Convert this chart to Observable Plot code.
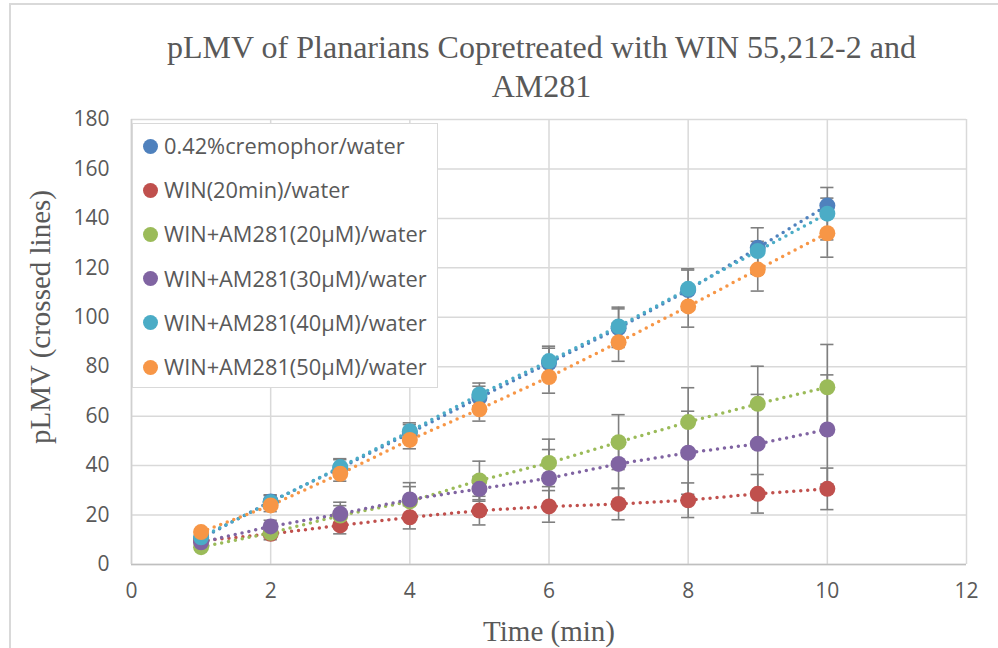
<!DOCTYPE html>
<html>
<head>
<meta charset="utf-8">
<script src="https://cdn.jsdelivr.net/npm/d3@7"></script>
<script src="https://cdn.jsdelivr.net/npm/@observablehq/plot@0.6"></script>
<style>
  body { margin: 0; background: #fff; }
  #wrap { position: relative; width: 998px; height: 648px; overflow: hidden; background: #fff; }
  #titlebox { position: absolute; left: 0; top: 0; width: 998px; height: 116px; overflow: visible; }
  #chart { position: absolute; left: 0; top: 100px; }
  #border { position: absolute; left: 9px; top: 3px; width: 1100px; height: 800px;
            border-left: 2px solid #d9d9d9; border-top: 2px solid #d9d9d9; pointer-events: none; }
  #legend { position: absolute; left: 132px; top: 123px; width: 304px; height: 263px;
            border: 1.5px solid #d9d9d9; background: #fff; font-family: "Open Sans"; font-size: 21.8px; color: #595959; }
  #legend .item { position: absolute; left: 0; height: 30px; white-space: nowrap; }
  #legend .sw { position: absolute; left: 10px; top: 7.5px; width: 15px; height: 15px; border-radius: 50%; }
  #legend .lab { position: absolute; left: 31px; top: 0; line-height: 30px; }
</style>
</head>
<body>
<div id="wrap">
  <div id="chart"></div>
  <svg id="titlebox" width="998" height="116"></svg>
  <div id="legend"></div>
  <div id="border"></div>
</div>
<script>
// ---------- data ----------
const titleLines = ["pLMV of Planarians Copretreated with WIN 55,212-2  and", "AM281"];
const xLabel = "Time (min)";
const yLabel = "pLMV (crossed lines)";

const times = [1, 2, 3, 4, 5, 6, 7, 8, 9, 10];
const xTicks = [0, 2, 4, 6, 8, 10, 12];
const yTicks = [0, 20, 40, 60, 80, 100, 120, 140, 160, 180];

const seriesNames = [
  "0.42%cremophor/water",
  "WIN(20min)/water",
  "WIN+AM281(20µM)/water",
  "WIN+AM281(30µM)/water",
  "WIN+AM281(40µM)/water",
  "WIN+AM281(50µM)/water"
];
const seriesColors = ["#4F81BD", "#C0504D", "#9BBB59", "#8064A2", "#4BACC6", "#F79646"];

const cremophor = [10.5, 25.5, 39.0, 53.2, 67.5, 81.5, 95.6, 111.0, 128.1, 145.2];
const win20     = [9.5, 12.4, 15.8, 19.1, 21.8, 23.5, 24.5, 26.0, 28.6, 30.6];
const am20      = [7.0, 12.8, 19.8, 25.5, 34.0, 41.1, 49.5, 57.6, 65.0, 71.7];
const am30      = [9.0, 15.4, 20.5, 26.3, 30.6, 34.9, 40.7, 45.2, 48.8, 54.6];
const am40      = [11.0, 25.2, 39.4, 53.9, 68.8, 82.3, 96.3, 111.5, 126.8, 141.9];
const am50      = [13.1, 23.9, 36.7, 50.4, 62.8, 75.8, 89.9, 104.4, 119.3, 134.0];

const cremophorErr = [1.0, 2.7, 3.4, 3.4, 4.6, 6.0, 7.8, 8.1, 2.6, 3.0];
const win20Err     = [1.0, 2.4, 3.4, 4.7, 5.8, 6.4, 6.4, 7.0, 7.8, 8.4];
const am20Err      = [1.0, 2.0, 4.0, 6.0, 7.8, 9.6, 11.1, 13.9, 15.2, 17.3];
const am30Err      = [1.0, 2.5, 4.7, 6.8, 5.0, 11.6, 10.0, 16.8, 20.0, 22.1];
const am40Err      = [1.0, 2.7, 3.4, 3.4, 4.6, 6.0, 7.8, 8.1, 9.4, 10.6];
const am50Err      = [1.0, 2.5, 3.0, 3.6, 4.8, 6.5, 7.7, 8.4, 8.7, 9.7];

const seriesValues = [cremophor, win20, am20, am30, am40, am50];
const seriesErrors = [cremophorErr, win20Err, am20Err, am30Err, am40Err, am50Err];

// ---------- build table ----------
const rows = seriesNames.flatMap((s, i) =>
  times.map((t, j) => ({ series: s, time: t, value: seriesValues[i][j], err: seriesErrors[i][j] }))
);

const capHalf = 0.095; // half-width of error-bar caps in x units
const gridStyle = { stroke: "#d9d9d9", strokeOpacity: 1, strokeWidth: 1.5 };
const errStyle = { stroke: "#7f7f7f", strokeOpacity: 1, strokeWidth: 1.6 };

const chart = Plot.plot({
  width: 998,
  height: 548,
  marginLeft: 131,
  marginRight: 32,
  marginTop: 19,
  marginBottom: 84,
  style: { fontFamily: "'Open Sans'", fontSize: "21px", color: "#595959", background: "transparent", overflow: "visible" },
  x: { domain: [0, 12], ticks: xTicks },
  y: { domain: [0, 180], ticks: yTicks },
  color: { domain: seriesNames, range: seriesColors },
  marks: [
    Plot.gridX(xTicks, gridStyle),
    Plot.gridY(yTicks, gridStyle),
    Plot.ruleY([0], { stroke: "#bfbfbf", strokeWidth: 1.5 }),
    Plot.ruleX([0], { stroke: "#d0d0d0", strokeWidth: 1.5 }),
    Plot.axisX(xTicks, { tickSize: 0, tickPadding: 19, label: null }),
    Plot.axisY(yTicks, { tickSize: 0, tickPadding: 22, label: null }),
    Plot.line(rows, { x: "time", y: "value", stroke: "series", strokeWidth: 3.5, strokeDasharray: "0 7", strokeLinecap: "round" }),
    Plot.ruleX(rows, { x: "time", y1: d => d.value - d.err, y2: d => d.value + d.err, ...errStyle }),
    Plot.ruleY(rows, { y: d => d.value + d.err, x1: d => d.time - capHalf, x2: d => d.time + capHalf, ...errStyle }),
    Plot.ruleY(rows, { y: d => d.value - d.err, x1: d => d.time - capHalf, x2: d => d.time + capHalf, ...errStyle }),
    Plot.dot(rows, { x: "time", y: "value", fill: "series", r: 8 }),
    Plot.text([xLabel], { frameAnchor: "bottom", dy: 67, lineAnchor: "middle", fontFamily: "'Liberation Serif'", fontSize: 29, fill: "#595959" }),
    Plot.text([yLabel], { frameAnchor: "left", dx: -91, dy: -25, rotate: -90, lineAnchor: "middle", textAnchor: "middle", fontFamily: "'Liberation Serif'", fontSize: 29, fill: "#595959" })
  ]
});
document.getElementById("chart").appendChild(chart);

// ---------- title ----------
const tsvg = d3.select("#titlebox");
tsvg.selectAll("text").data(titleLines).join("text")
  .attr("x", 541.5)
  .attr("y", (d, i) => 58 + i * 39)
  .attr("text-anchor", "middle")
  .attr("font-family", "'Liberation Serif'")
  .attr("font-size", 32)
  .attr("fill", "#595959")
  .text(d => d);

// ---------- legend ----------
const legend = d3.select("#legend");
seriesNames.forEach((s, i) => {
  const item = legend.append("div").attr("class", "item").style("top", (7 + i * 44.2) + "px");
  item.append("div").attr("class", "sw").style("background", seriesColors[i]);
  item.append("div").attr("class", "lab").text(s);
});
</script>
</body>
</html>
